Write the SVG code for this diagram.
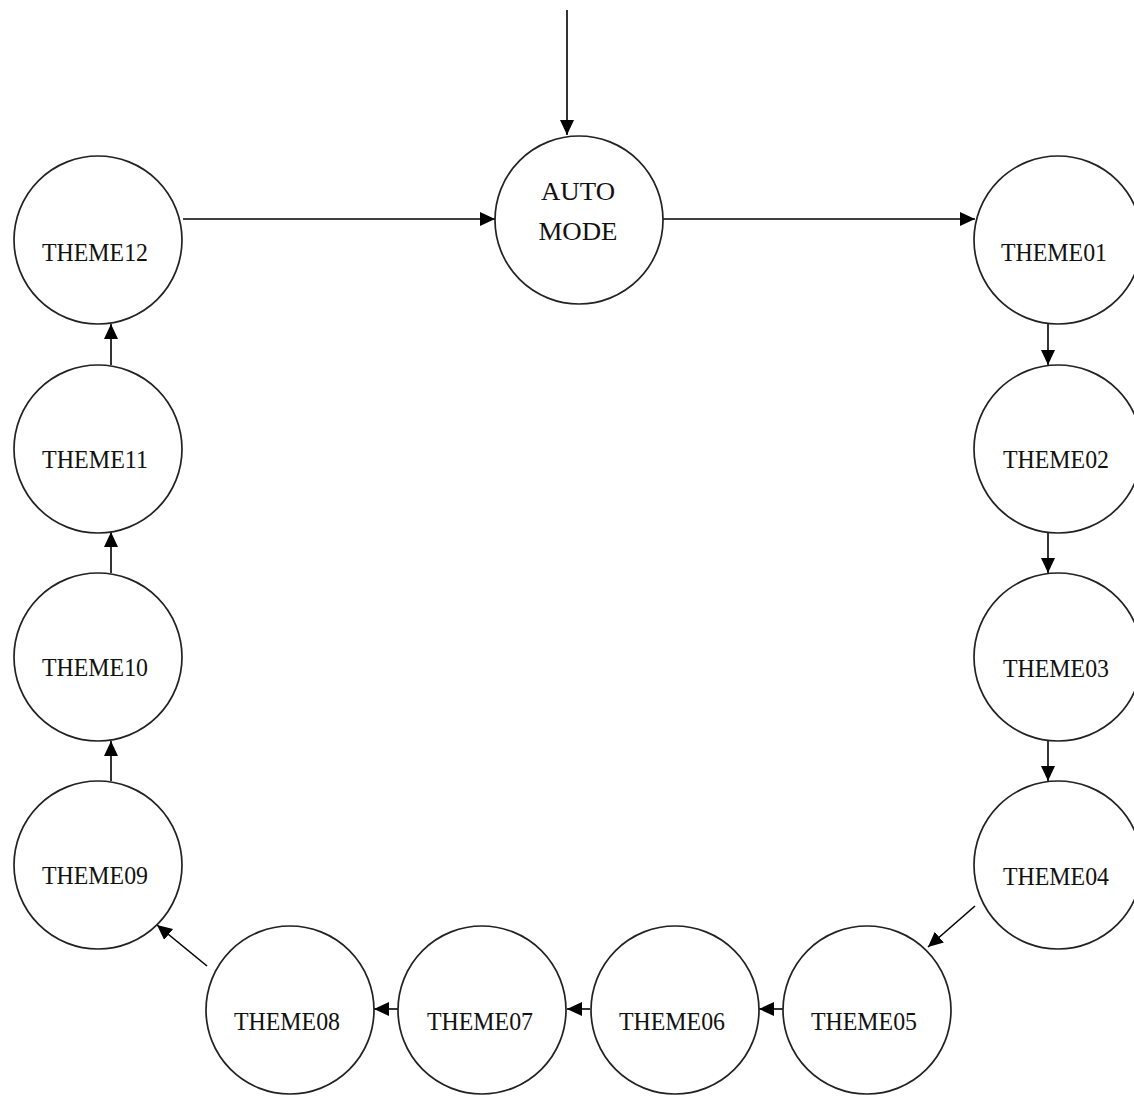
<svg xmlns="http://www.w3.org/2000/svg" width="1134" height="1096" viewBox="0 0 1134 1096">
<style>
.n{fill:#fff;stroke:#222;stroke-width:1.7}
.t{font-family:"Liberation Serif","Times New Roman",serif;font-size:25px;fill:#111;text-anchor:middle}
.c{stroke:#000;stroke-width:1.6;fill:none;marker-end:url(#ah)}
</style>
<defs>
<marker id="ah" markerUnits="userSpaceOnUse" markerWidth="16" markerHeight="15" refX="15" refY="7" orient="auto">
<path d="M0,0 L15,7 L0,14 z" fill="#000"/>
</marker>
</defs>
<rect width="1134" height="1096" fill="#fff"/>
<g id="connectors">
<line class="c" x1="567" y1="10" x2="567" y2="135"/>
<line class="c" x1="183" y1="219" x2="495" y2="219"/>
<line class="c" x1="663" y1="219" x2="975" y2="219"/>
<line class="c" x1="1048" y1="324" x2="1048" y2="365"/>
<line class="c" x1="1048" y1="532" x2="1048" y2="573"/>
<line class="c" x1="1048" y1="741" x2="1048" y2="781"/>
<line class="c" x1="975" y1="906" x2="928" y2="947"/>
<line class="c" x1="783" y1="1009" x2="759" y2="1009"/>
<line class="c" x1="590" y1="1009" x2="567" y2="1009"/>
<line class="c" x1="398" y1="1009" x2="374" y2="1009"/>
<line class="c" x1="207" y1="966" x2="157" y2="925"/>
<line class="c" x1="111" y1="781" x2="111" y2="741"/>
<line class="c" x1="111" y1="573" x2="111" y2="532"/>
<line class="c" x1="111" y1="365" x2="111" y2="324"/>
</g>
<g id="auto"><circle class="n" cx="579" cy="220" r="84"/><text class="t" x="578" y="200" textLength="74" lengthAdjust="spacingAndGlyphs">AUTO</text><text class="t" x="578" y="240" textLength="79" lengthAdjust="spacingAndGlyphs">MODE</text></g>
<g id="theme01"><circle class="n" cx="1058" cy="240" r="84"/><text class="t" x="1054" y="261" textLength="106" lengthAdjust="spacingAndGlyphs">THEME01</text></g>
<g id="theme02"><circle class="n" cx="1058" cy="449" r="84"/><text class="t" x="1056" y="468" textLength="106" lengthAdjust="spacingAndGlyphs">THEME02</text></g>
<g id="theme03"><circle class="n" cx="1058" cy="657" r="84"/><text class="t" x="1056" y="677" textLength="106" lengthAdjust="spacingAndGlyphs">THEME03</text></g>
<g id="theme04"><circle class="n" cx="1058" cy="865" r="84"/><text class="t" x="1056" y="885" textLength="106" lengthAdjust="spacingAndGlyphs">THEME04</text></g>
<g id="theme05"><circle class="n" cx="867" cy="1010" r="84"/><text class="t" x="864" y="1030" textLength="106" lengthAdjust="spacingAndGlyphs">THEME05</text></g>
<g id="theme06"><circle class="n" cx="675" cy="1010" r="84"/><text class="t" x="672" y="1030" textLength="106" lengthAdjust="spacingAndGlyphs">THEME06</text></g>
<g id="theme07"><circle class="n" cx="482" cy="1010" r="84"/><text class="t" x="480" y="1030" textLength="106" lengthAdjust="spacingAndGlyphs">THEME07</text></g>
<g id="theme08"><circle class="n" cx="290" cy="1010" r="84"/><text class="t" x="287" y="1030" textLength="106" lengthAdjust="spacingAndGlyphs">THEME08</text></g>
<g id="theme09"><circle class="n" cx="98" cy="865" r="84"/><text class="t" x="95" y="884" textLength="106" lengthAdjust="spacingAndGlyphs">THEME09</text></g>
<g id="theme10"><circle class="n" cx="98" cy="657" r="84"/><text class="t" x="95" y="676" textLength="106" lengthAdjust="spacingAndGlyphs">THEME10</text></g>
<g id="theme11"><circle class="n" cx="98" cy="449" r="84"/><text class="t" x="95" y="468" textLength="106" lengthAdjust="spacingAndGlyphs">THEME11</text></g>
<g id="theme12"><circle class="n" cx="98" cy="240" r="84"/><text class="t" x="95" y="261" textLength="106" lengthAdjust="spacingAndGlyphs">THEME12</text></g>
</svg>
